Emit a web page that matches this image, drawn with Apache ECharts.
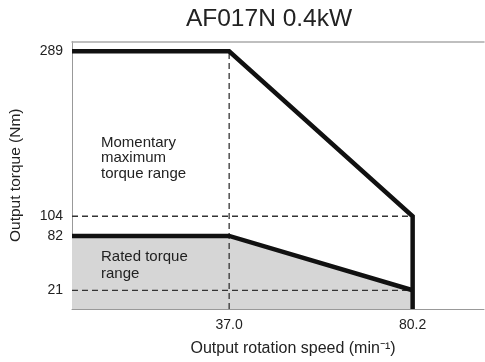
<!DOCTYPE html>
<html>
<head>
<meta charset="utf-8">
<script src="https://cdn.jsdelivr.net/npm/echarts@6/dist/echarts.min.js"></script>
<style>html,body{margin:0;padding:0;background:#fff}#c{width:485px;height:362px}</style>
</head>
<body>
<div id="c"></div>
<script>
const speeds = [0, 37.0, 80.2];
const maxTorque = [289, 289, 104];
const ratedTorque = [82, 82, 21];
const yTicks = [21, 82, 104, 289];
const xTicks = [37.0, 80.2];
const xMax = 97;
const yMax = 300;

const chart = echarts.init(document.getElementById('c'));
const font = 'Liberation Sans, Arial, sans-serif';
const dash = {color: '#333', width: 1.3, type: [6, 4]};

const maxLine = speeds.map((s, i) => [s, maxTorque[i]]).concat([[speeds[2], 0]]);
const ratedLine = speeds.map((s, i) => [s, ratedTorque[i]]);

chart.setOption({
  animation: false,
  textStyle: {fontFamily: font},
  title: {
    text: 'AF017N 0.4kW', left: 264, top: 2, textAlign: 'center',
    textStyle: {fontFamily: font, fontSize: 24.5, fontWeight: 'normal', color: '#222'}
  },
  grid: {left: 72, right: 1, top: 41.5, bottom: 52},
  xAxis: [{
    type: 'value', min: 0, max: xMax,
    splitLine: {show: false},
    axisLine: {lineStyle: {color: '#999', width: 1}},
    axisTick: {show: false},
    axisLabel: {customValues: xTicks, formatter: v => v.toFixed(1), color: '#222', fontSize: 14, margin: 9, fontFamily: font},
    name: 'Output rotation speed (min\u207B\u00B9)', nameLocation: 'middle', nameGap: 32,
    nameTextStyle: {fontSize: 16, color: '#222', fontFamily: font, padding: [0, 0, 0, 30]}
  }, {
    type: 'value', position: 'top', min: 0, max: xMax,
    splitLine: {show: false}, axisTick: {show: false}, axisLabel: {show: false},
    axisLine: {lineStyle: {color: '#aaa', width: 1.5}}
  }],
  yAxis: {
    type: 'value', min: 0, max: yMax,
    splitLine: {show: false},
    axisLine: {show: true, lineStyle: {color: '#999', width: 1}},
    axisTick: {show: false},
    axisLabel: {customValues: yTicks, color: '#222', fontSize: 14, margin: 9, fontFamily: font},
    name: 'Output torque (Nm)', nameLocation: 'middle', nameGap: 48,
    nameTextStyle: {fontSize: 15.5, color: '#222', fontFamily: font}
  },
  series: [
    {type: 'line', data: ratedLine, symbol: 'none', lineStyle: {width: 0},
     areaStyle: {color: '#d6d6d6', opacity: 1}, z: 1},
    {type: 'line', data: [[0, 104], [speeds[2], 104]], symbol: 'none', lineStyle: dash, z: 2},
    {type: 'line', data: [[0, 21], [speeds[2], 21]], symbol: 'none', lineStyle: dash, z: 2},
    {type: 'line', data: [[speeds[1], 0], [speeds[1], maxTorque[1]]], symbol: 'none', lineStyle: dash, z: 2},
    {type: 'line', data: ratedLine, symbol: 'none', lineStyle: {color: '#111', width: 4.5, cap: 'butt', join: 'miter'}, z: 3},
    {type: 'line', data: maxLine, symbol: 'none', lineStyle: {color: '#111', width: 4.5, cap: 'butt', join: 'miter'}, z: 3}
  ],
  graphic: [
    {type: 'text', z: 100, left: 101, top: 135, style: {text: 'Momentary\nmaximum\ntorque range', font: '15px ' + font, fill: '#222', lineHeight: 15.5}},
    {type: 'text', z: 100, left: 101, top: 249, style: {text: 'Rated torque\nrange', font: '15px ' + font, fill: '#222', lineHeight: 16.5}}
  ]
});
</script>
</body>
</html>
